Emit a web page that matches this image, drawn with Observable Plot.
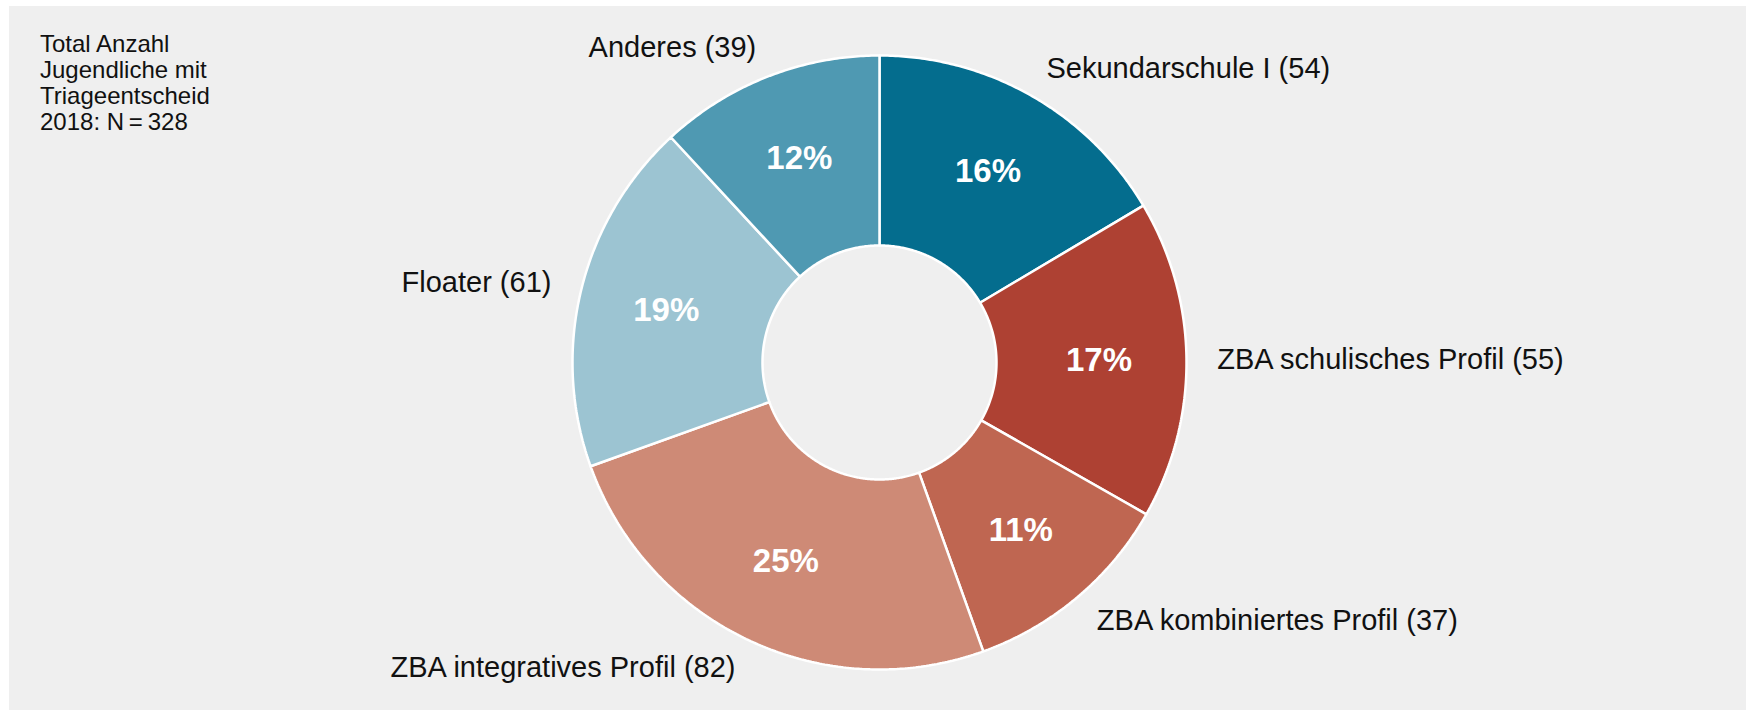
<!DOCTYPE html>
<html>
<head>
<meta charset="utf-8">
<script src="https://cdn.jsdelivr.net/npm/d3@7"></script>
<script src="https://cdn.jsdelivr.net/npm/@observablehq/plot@0.6"></script>
<style>
  html, body { margin: 0; padding: 0; background: #ffffff; }
  #wrap { position: relative; width: 1753px; height: 710px; overflow: hidden; }
  #panel { position: absolute; left: 9px; top: 6px; width: 1737px; height: 704px; background: #efefef; }
  #chart { position: absolute; left: 0; top: 0; }
  #note { position: absolute; left: 40px; top: 31px; font-family: "Liberation Sans", Arial, sans-serif;
          font-size: 24px; line-height: 26px; color: #111; }
</style>
</head>
<body>
<div id="wrap">
  <div id="panel"></div>
  <div id="note">Total Anzahl<br>Jugendliche mit<br>Triageentscheid<br>2018: N&#8201;=&#8201;328</div>
  <div id="chart"></div>
</div>
<script>
// ---- data ----
const categories = [
  "Sekundarschule I",
  "ZBA schulisches Profil",
  "ZBA kombiniertes Profil",
  "ZBA integratives Profil",
  "Floater",
  "Anderes"
];
const counts = [54, 55, 37, 82, 61, 39];
const colors = ["#046d8e", "#ae4133", "#bf6651", "#ce8a76", "#9cc4d2", "#4f99b2"];

// ---- layout ----
const W = 1753, H = 710;
const cx = 879, cy = 362, R = 307;          // pixel centre & outer radius
const inner = 117 / 307;                     // inner radius (relative)
const pctR = 0.715, labR = 1.1;

const total = d3.sum(counts);
const pie = d3.pie().sort(null).startAngle(0).endAngle(2 * Math.PI)(counts);

const slices = categories.map((c, i) => {
  const a0 = pie[i].startAngle, a1 = pie[i].endAngle, mid = (a0 + a1) / 2;
  return {
    cat: c, value: counts[i], a0, a1, mid,
    pct: Math.round(counts[i] / total * 100) + "%",
    label: `${c} (${counts[i]})`
  };
});

// polygon outline of each ring segment, in unit-radius coordinates
const pts = [];
for (const s of slices) {
  const n = Math.max(2, Math.ceil((s.a1 - s.a0) / (Math.PI / 360)));
  const ring = [];
  for (let k = 0; k <= n; k++) { const a = s.a0 + (s.a1 - s.a0) * k / n; ring.push([Math.sin(a), Math.cos(a)]); }
  for (let k = n; k >= 0; k--) { const a = s.a0 + (s.a1 - s.a0) * k / n; ring.push([inner * Math.sin(a), inner * Math.cos(a)]); }
  ring.push(ring[0]);
  ring.forEach(([x, y]) => pts.push({cat: s.cat, x, y}));
}

const xDom = [-cx / R, (W - cx) / R];
const yDom = [-(H - cy) / R, cy / R];
const font = "'Liberation Sans', Arial, Helvetica, sans-serif";

const chart = Plot.plot({
  width: W, height: H,
  margin: 0,
  x: {domain: xDom, axis: null},
  y: {domain: yDom, axis: null},
  color: {type: "ordinal", domain: categories, range: colors},
  style: {background: "transparent", fontFamily: font, overflow: "visible"},
  marks: [
    Plot.line(pts, {x: "x", y: "y", z: "cat", fill: "cat", stroke: "white", strokeWidth: 2.5, strokeLinejoin: "miter"}),
    Plot.text(slices, {
      x: d => pctR * Math.sin(d.mid), y: d => pctR * Math.cos(d.mid),
      text: "pct", fill: "white", fontWeight: "bold", fontSize: 33
    }),
    Plot.text(slices.filter(d => Math.sin(d.mid) >= 0), {
      x: d => labR * Math.sin(d.mid), y: d => labR * Math.cos(d.mid),
      text: "label", textAnchor: "start", fill: "#111", fontSize: 29
    }),
    Plot.text(slices.filter(d => Math.sin(d.mid) < 0), {
      x: d => labR * Math.sin(d.mid), y: d => labR * Math.cos(d.mid),
      text: "label", textAnchor: "end", fill: "#111", fontSize: 29
    })
  ]
});
document.getElementById("chart").appendChild(chart);
</script>
</body>
</html>
